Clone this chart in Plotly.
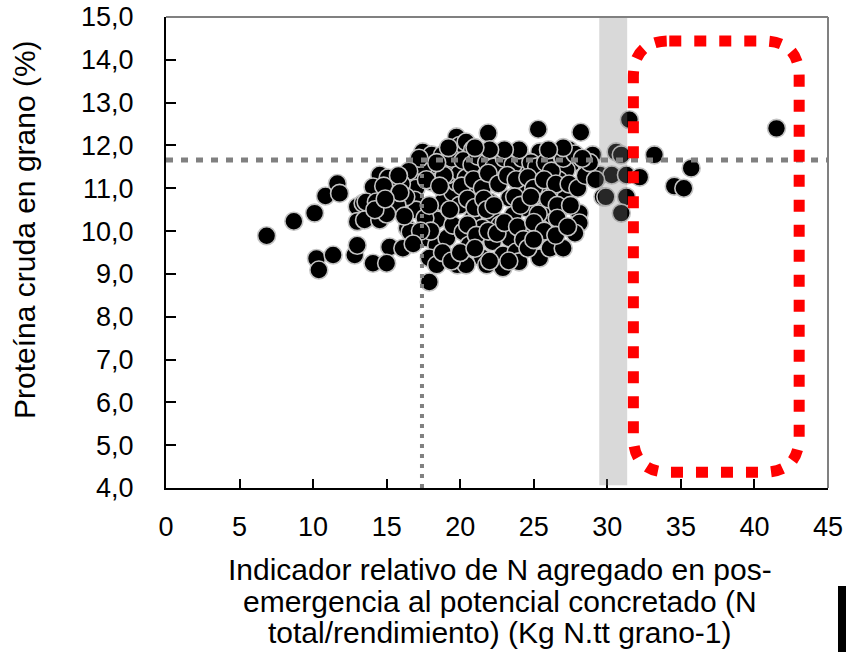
import plotly.graph_objects as go

# N index (kg N per t grain) and grain crude protein (%) per plot
n_index = [
    6.84, 8.69, 10.1, 10.84, 11.65, 11.8, 10.23, 10.39, 11.36, 12.83, 13.0, 13.0, 13.0, 13.4,
    17.45, 18.06, 18.8, 19.75, 19.96, 14.53, 15.1, 14.07, 15.4, 13.6, 14.3, 15.4, 13.5, 14.53,
    16.8, 17.0, 16.9, 17.0, 17.9, 18.1, 18.6, 18.4, 16.4, 16.6, 15.2, 16.1, 14.07, 15.0,
    17.7, 18.4, 17.9, 18.4, 17.9, 19.8, 19.1, 19.5, 18.8, 19.5, 19.96, 19.75, 19.1, 19.96,
    21.9, 25.3, 20.4, 20.85, 22.7, 25.4, 26.3, 26.7, 21.3, 23.1, 24.5, 20.4, 22.2, 24.0,
    26.3, 25.4, 22.0, 23.35, 20.6, 25.9, 24.5, 23.6, 26.3, 22.2, 20.85, 20.2, 21.5, 22.7,
    23.35, 24.5, 25.4, 26.1, 22.2, 20.6, 21.5, 22.9, 23.8, 25.4, 26.1, 20.4, 21.8, 22.9,
    24.0, 27.0,
    28.2, 27.4, 29.0, 30.6, 30.95, 29.5, 30.3, 31.3, 32.2, 29.7, 29.9, 31.3, 30.95, 31.5,
    27.6, 28.6, 27.2, 26.7, 27.2, 28.1, 28.1, 27.8, 26.7,
    33.2, 35.7, 34.55, 35.2, 41.5,
    19.0, 19.4, 20.2, 20.8, 21.2, 21.8, 22.3, 23.0, 23.6, 24.2, 24.8, 25.2, 25.8, 26.2, 27.0, 27.8,
    18.9, 20.1, 20.9, 21.5, 21.9, 22.6, 23.2, 23.8, 24.6, 25.0, 25.7, 26.5, 27.4, 28.0, 28.5,
    19.3, 20.5, 21.0, 21.6, 21.8, 23.7, 24.1, 24.8, 25.3, 26.0, 26.6, 27.5,
    20.5, 21.1, 21.9, 22.5, 23.0, 23.9, 24.3, 25.0, 25.7, 26.6,
    17.5, 17.2, 16.5, 16.0, 15.8, 14.8, 16.3, 15.7, 16.2, 15.0, 14.2, 17.6, 18.0, 17.3, 16.8,
    18.8, 19.4, 20.0, 21.0, 22.0, 23.3, 24.6, 25.0, 26.5, 27.3,
    28.8, 29.2, 28.3, 27.0, 26.0, 24.0, 23.0, 22.0, 21.0, 19.2, 18.4, 17.7, 18.6,
    17.9, 22.3, 15.9, 14.9,
]
protein = [
    9.89, 10.23, 10.42, 10.82, 11.11, 10.88, 9.36, 9.09, 9.44, 9.44, 9.67, 10.57, 10.22, 10.65,
    11.85, 11.78, 11.78, 12.2, 12.0, 11.31, 11.24, 11.03, 10.9, 10.68, 10.68, 10.56, 10.26, 10.26,
    11.26, 11.0, 10.72, 10.49, 11.47, 11.14, 10.37, 10.26, 10.07, 9.98, 9.63, 9.6, 9.25, 9.25,
    9.84, 9.67, 9.37, 9.21, 8.81, 9.21, 9.84, 10.14, 10.68, 10.9, 10.6, 11.14, 11.31, 11.38,
    12.29, 12.38, 12.08, 11.9, 11.78, 11.85, 11.78, 11.54, 11.47, 11.5, 11.38, 11.24, 11.24, 11.07,
    10.9, 10.84, 10.68, 10.77, 10.9, 10.54, 10.54, 10.37, 10.21, 10.3, 10.3, 9.98, 10.07, 10.14,
    9.84, 9.98, 10.07, 9.84, 9.75, 9.67, 9.37, 9.44, 9.51, 9.37, 9.6, 9.21, 9.21, 9.14,
    9.28, 9.6,
    12.31, 11.9, 11.78, 11.85, 11.78, 11.31, 11.31, 11.31, 11.26, 10.8, 10.8, 10.8, 10.42, 12.6,
    11.59, 11.59, 11.43, 11.19, 10.8, 10.42, 10.19, 9.95, 10.49,
    11.78, 11.47, 11.05, 11.0, 12.4,
    11.6, 11.7, 11.65, 11.55, 11.75, 11.6, 11.5, 11.7, 11.55, 11.7, 11.6, 11.5, 11.6, 11.4, 11.7, 11.8,
    11.3, 11.05, 11.2, 11.0, 11.35, 11.1, 11.3, 11.2, 11.25, 11.0, 11.2, 11.1, 11.1, 11.0, 11.3,
    10.5, 10.75, 10.55, 10.75, 10.5, 10.8, 10.6, 10.8, 10.4, 10.75, 10.6, 10.6,
    10.15, 9.9, 10.0, 9.95, 10.2, 10.1, 9.8, 10.2, 10.0, 10.3,
    11.5, 11.7, 11.4, 11.1, 11.3, 11.05, 10.8, 10.6, 10.35, 10.4, 10.5, 10.3, 10.0, 10.0, 9.7,
    9.5, 9.3, 9.5, 9.6, 9.3, 9.3, 9.6, 9.8, 9.9, 10.1,
    11.6, 11.2, 11.7, 11.95, 11.9, 11.9, 11.9, 11.9, 11.95, 11.95, 11.6, 11.2, 11.05,
    10.6, 10.6, 10.9, 10.75,
]

# Reference levels and highlighted zones (data units)
protein_threshold = 11.66
n_reference = 17.4
band_x = (29.45, 31.35)
zone_x = (31.77, 43.04)
zone_y = (4.37, 14.44)
zone_rx, zone_ry = 2.44, 0.84

x_ticks = [0, 5, 10, 15, 20, 25, 30, 35, 40, 45]
y_ticks = [4, 5, 6, 7, 8, 9, 10, 11, 12, 13, 14, 15]

FONT = "Liberation Sans, Arial, sans-serif"

fig = go.Figure()
fig.add_trace(go.Scatter(
    x=n_index, y=protein, mode="markers",
    marker=dict(symbol="circle", size=18, color="#000000",
                line=dict(color="#c4c4c4", width=1.6)),
    showlegend=False, hoverinfo="x+y",
))

x0, x1 = zone_x
y0, y1 = zone_y
rx, ry = zone_rx, zone_ry
zone_path = (
    f"M {x0 + rx},{y1} L {x1 - rx},{y1} Q {x1},{y1} {x1},{y1 - ry} "
    f"L {x1},{y0 + ry} Q {x1},{y0} {x1 - rx},{y0} "
    f"L {x0 + rx},{y0} Q {x0},{y0} {x0},{y0 + ry} "
    f"L {x0},{y1 - ry} Q {x0},{y1} {x0 + rx},{y1} Z"
)

shapes = [
    # shaded band
    dict(type="rect", xref="x", yref="paper", x0=band_x[0], x1=band_x[1], y0=0.006, y1=1,
         fillcolor="rgba(128,128,128,0.3)", line=dict(width=0), layer="above"),
    # protein threshold
    dict(type="line", xref="paper", yref="y", x0=0, x1=1,
         y0=protein_threshold, y1=protein_threshold,
         line=dict(color="#808080", width=5, dash="7px,8px"), layer="above"),
    # N reference
    dict(type="line", xref="x", yref="y", x0=n_reference, x1=n_reference,
         y0=4, y1=protein_threshold,
         line=dict(color="#808080", width=4, dash="4px,6px"), layer="above"),
    # highlighted zone
    dict(type="path", xref="x", yref="y", path=zone_path,
         line=dict(color="#ff0000", width=11, dash="12px,13px"), layer="above"),
    # top and right frame
    dict(type="line", xref="paper", yref="paper", x0=0, x1=1, y0=1, y1=1,
         line=dict(color="#808080", width=2), layer="above"),
    dict(type="line", xref="paper", yref="paper", x0=1, x1=1, y0=0, y1=1,
         line=dict(color="#808080", width=2), layer="above"),
    # dark bar in the lower right corner
    dict(type="rect", xref="paper", yref="paper", x0=1.0151, x1=1.04, y0=-0.36, y1=-0.2081,
         fillcolor="#000000", line=dict(width=0), layer="above"),
]

x_title_lines = [
    "Indicador relativo de N agregado en pos-",
    "emergencia al potencial concretado (N",
    "total/rendimiento) (Kg N.tt grano-1)",
]
x_title_y = [-0.1720, -0.2400, -0.3075]

annotations = [
    dict(text=t, xref="paper", yref="paper", x=0.5045, y=yy, xanchor="center", yanchor="middle",
         showarrow=False, font=dict(family=FONT, size=30, color="#000000"))
    for t, yy in zip(x_title_lines, x_title_y)
]
annotations.append(dict(
    text="Proteína cruda en grano (%)", xref="paper", yref="paper", x=-0.213, y=0.55,
    xanchor="center", yanchor="middle", textangle=-90, showarrow=False,
    font=dict(family=FONT, size=30, color="#000000"),
))

fig.update_layout(
    width=846, height=652,
    margin=dict(l=166, r=18, t=17, b=164, pad=0, autoexpand=False),
    paper_bgcolor="#ffffff", plot_bgcolor="#ffffff",
    separators=",.",
    font=dict(family=FONT, color="#000000"),
    shapes=shapes,
    annotations=annotations,
    showlegend=False,
)
fig.update_xaxes(
    range=[0, 45], tickvals=x_ticks, ticktext=[str(v) for v in x_ticks],
    showgrid=False, zeroline=False, automargin=False,
    showline=True, linecolor="#000000", linewidth=2,
    ticks="inside", ticklen=9, tickwidth=2, tickcolor="#000000",
    tickfont=dict(family=FONT, size=27, color="#000000"),
    ticklabelstandoff=14,
)
fig.update_yaxes(
    range=[4, 15], tickvals=y_ticks, tickformat=".1f",
    showgrid=False, zeroline=False, automargin=False,
    showline=True, linecolor="#000000", linewidth=2,
    ticks="inside", ticklen=10, tickwidth=2, tickcolor="#000000",
    tickfont=dict(family=FONT, size=27, color="#000000"),
    ticklabelstandoff=25,
)

fig.write_html("out.html")
